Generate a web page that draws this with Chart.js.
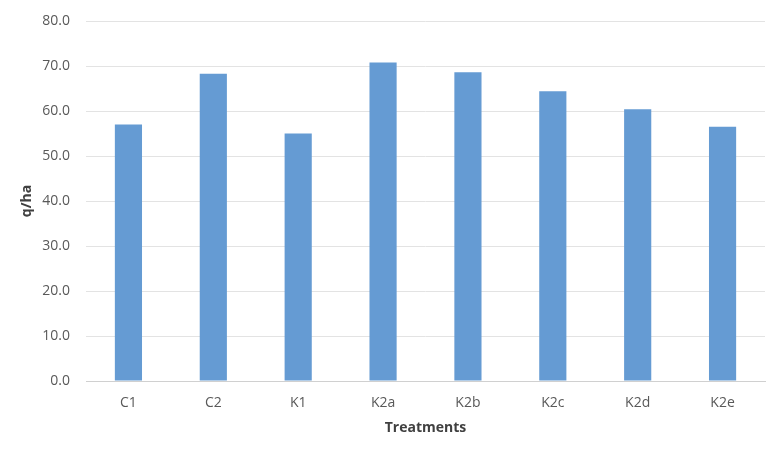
<!DOCTYPE html>
<html>
<head>
<meta charset="utf-8">
<script src="https://cdn.jsdelivr.net/npm/chart.js@4/dist/chart.umd.min.js"></script>
<style>
html,body{margin:0;padding:0;background:#fff;}
#wrap{width:782px;height:450px;position:relative;}
</style>
</head>
<body>
<div id="wrap"><canvas id="c" width="782" height="450"></canvas></div>
<script>
const categories = ["C1","C2","K1","K2a","K2b","K2c","K2d","K2e"];
const yieldValues = [57.0, 68.3, 55.0, 70.8, 68.6, 64.4, 60.4, 56.5];
const yTitle = "q/ha";
const xTitle = "Treatments";

new Chart(document.getElementById("c"), {
  type: "bar",
  data: {
    labels: categories,
    datasets: [{
      data: yieldValues,
      backgroundColor: "#659BD3",
      borderWidth: 0,
      categoryPercentage: 1.0,
      barPercentage: 0.32
    }]
  },
  options: {
    responsive: false,
    animation: false,
    devicePixelRatio: 1,
    layout: { padding: { left: 0, right: 17, top: 21, bottom: 14 } },
    plugins: { legend: { display: false }, tooltip: { enabled: false } },
    scales: {
      x: {
        grid: { display: false, drawTicks: false },
        border: { display: true, color: "#d0d0d0", width: 1 },
        ticks: { color: "#595959", font: { family: "Open Sans", size: 14 }, padding: 14 },
        title: { display: true, text: xTitle, color: "#404040", font: { family: "Open Sans", size: 14, weight: "bold" }, padding: { top: 6, bottom: 0 } },
        afterFit: s => { s.height = 55; }
      },
      y: {
        min: 0, max: 80,
        ticks: { stepSize: 10, color: "#595959", font: { family: "Open Sans", size: 14 }, padding: 16,
          callback: v => Number(v).toFixed(1) },
        grid: { color: "#e3e3e3", drawTicks: false },
        border: { display: false },
        title: { display: true, text: yTitle, color: "#404040", font: { family: "Open Sans", size: 14, weight: "bold" }, padding: { top: 19, bottom: 3 } },
        afterFit: s => { s.width = 86; s.paddingTop = 0; s.paddingBottom = 0; }
      }
    }
  }
});
</script>
</body>
</html>
